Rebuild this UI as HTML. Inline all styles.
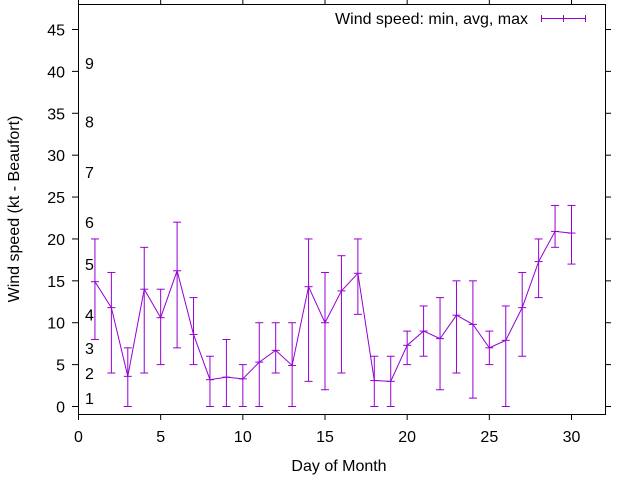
<!DOCTYPE html>
<html><head><meta charset="utf-8"><style>
body{margin:0;background:#fff;}
svg{display:block;font-family:"Liberation Sans",Arial,sans-serif;font-size:16px;}
</style></head><body>
<svg id="chart" width="640" height="480" xmlns="http://www.w3.org/2000/svg">
<rect x="0" y="0" width="640" height="480" fill="#fff"/>
<g id="grid"></g>
<g id="marks"></g>
<rect x="78.5" y="4.5" width="527" height="410" fill="none" stroke="#000" stroke-width="1"/>
<text x="339" y="471" text-anchor="middle">Day of Month</text>
<text transform="translate(19,209) rotate(-90)" text-anchor="middle">Wind speed (kt - Beaufort)</text>
<g>
<text x="528" y="24" text-anchor="end">Wind speed: min, avg, max</text>
<line x1="541" y1="18.5" x2="585" y2="18.5" stroke="#9400d3" stroke-width="1"/>
<line x1="541.5" y1="15" x2="541.5" y2="22" stroke="#9400d3"/>
<line x1="563.5" y1="15" x2="563.5" y2="22" stroke="#9400d3"/>
<line x1="585.5" y1="15" x2="585.5" y2="22" stroke="#9400d3"/>
</g>
</svg>
<script>
const days=[1,2,3,4,5,6,7,8,9,10,11,12,13,14,15,16,17,18,19,20,21,22,23,24,25,26,27,28,29,30];
const avgs=[14.9,11.8,3.6,14,10.6,16.2,8.6,3.2,3.5,3.3,5.3,6.7,4.9,14.3,10,13.8,15.9,3.1,3,7.3,9,8.1,10.9,9.8,7,7.9,11.8,17.3,20.9,20.7];
const mins=[8,4,0,4,5,7,5,0,0,0,0,4,0,3,2,4,11,0,0,5,6,2,4,1,5,0,6,13,19,17];
const maxs=[20,16,7,19,14,22,13,6,8,5,10,10,10,20,16,18,20,6,6,9,12,13,15,15,9,12,16,20,24,24];
const xTicks=[0,5,10,15,20,25,30];
const yTicks=[0,5,10,15,20,25,30,35,40,45];
const beaufortLabels=["1","2","3","4","5","6","7","8","9"];
const beaufortKt=[1,4,7,11,17,22,28,34,41];
const X=v=>78.5+v*(571-78)/30;
const Y=v=>406.5-v*(406-29)/45;
const NS="http://www.w3.org/2000/svg";
const g=document.getElementById('grid'),m=document.getElementById('marks');
function mk(p,tag,a){const e=document.createElementNS(NS,tag);for(const k in a)e.setAttribute(k,a[k]);p.appendChild(e);return e;}
xTicks.forEach(t=>{
 const x=X(t);
 const a=mk(g,'line',{x1:x,y1:414,x2:x,y2:420,stroke:'#000'});
 
 
 const b=mk(g,'line',{x1:x,y1:0,x2:x,y2:5,stroke:'#000'});
 
 
 const tx=mk(g,'text',{x:x,y:442,'text-anchor':'middle'});tx.textContent=t;
 
 
});
yTicks.forEach(t=>{
 const y=Y(t);
 const a=mk(g,'line',{x1:72,y1:y,x2:78,y2:y,stroke:'#000'});
 
 
 const b=mk(g,'line',{x1:606,y1:y,x2:611,y2:y,stroke:'#000'});
 
 
 const tx=mk(g,'text',{x:65,y:y+6,'text-anchor':'end'});tx.textContent=t;
 
 
});
beaufortLabels.forEach((l,i)=>{
 const tx=mk(g,'text',{x:85,y:Y(beaufortKt[i])+6});tx.textContent=l;
 
 
});
const C='#9400d3';
const pts=days.map((d,i)=>X(d)+','+Y(avgs[i])).join(' ');
const pl=mk(m,'polyline',{points:pts,fill:'none',stroke:C,'stroke-width':1});


days.forEach((d,i)=>{
 const x=X(d);
 const e=mk(m,'g',{stroke:C,'stroke-width':1});
 
 
 mk(e,'line',{x1:x,y1:Y(mins[i]),x2:x,y2:Y(maxs[i])});
 mk(e,'line',{x1:x-4,y1:Y(mins[i]),x2:x+4,y2:Y(mins[i])});
 mk(e,'line',{x1:x-4,y1:Y(maxs[i]),x2:x+4,y2:Y(maxs[i])});
 mk(e,'line',{x1:x-4,y1:Y(avgs[i]),x2:x+4,y2:Y(avgs[i])});
});
</script>
</body></html>
